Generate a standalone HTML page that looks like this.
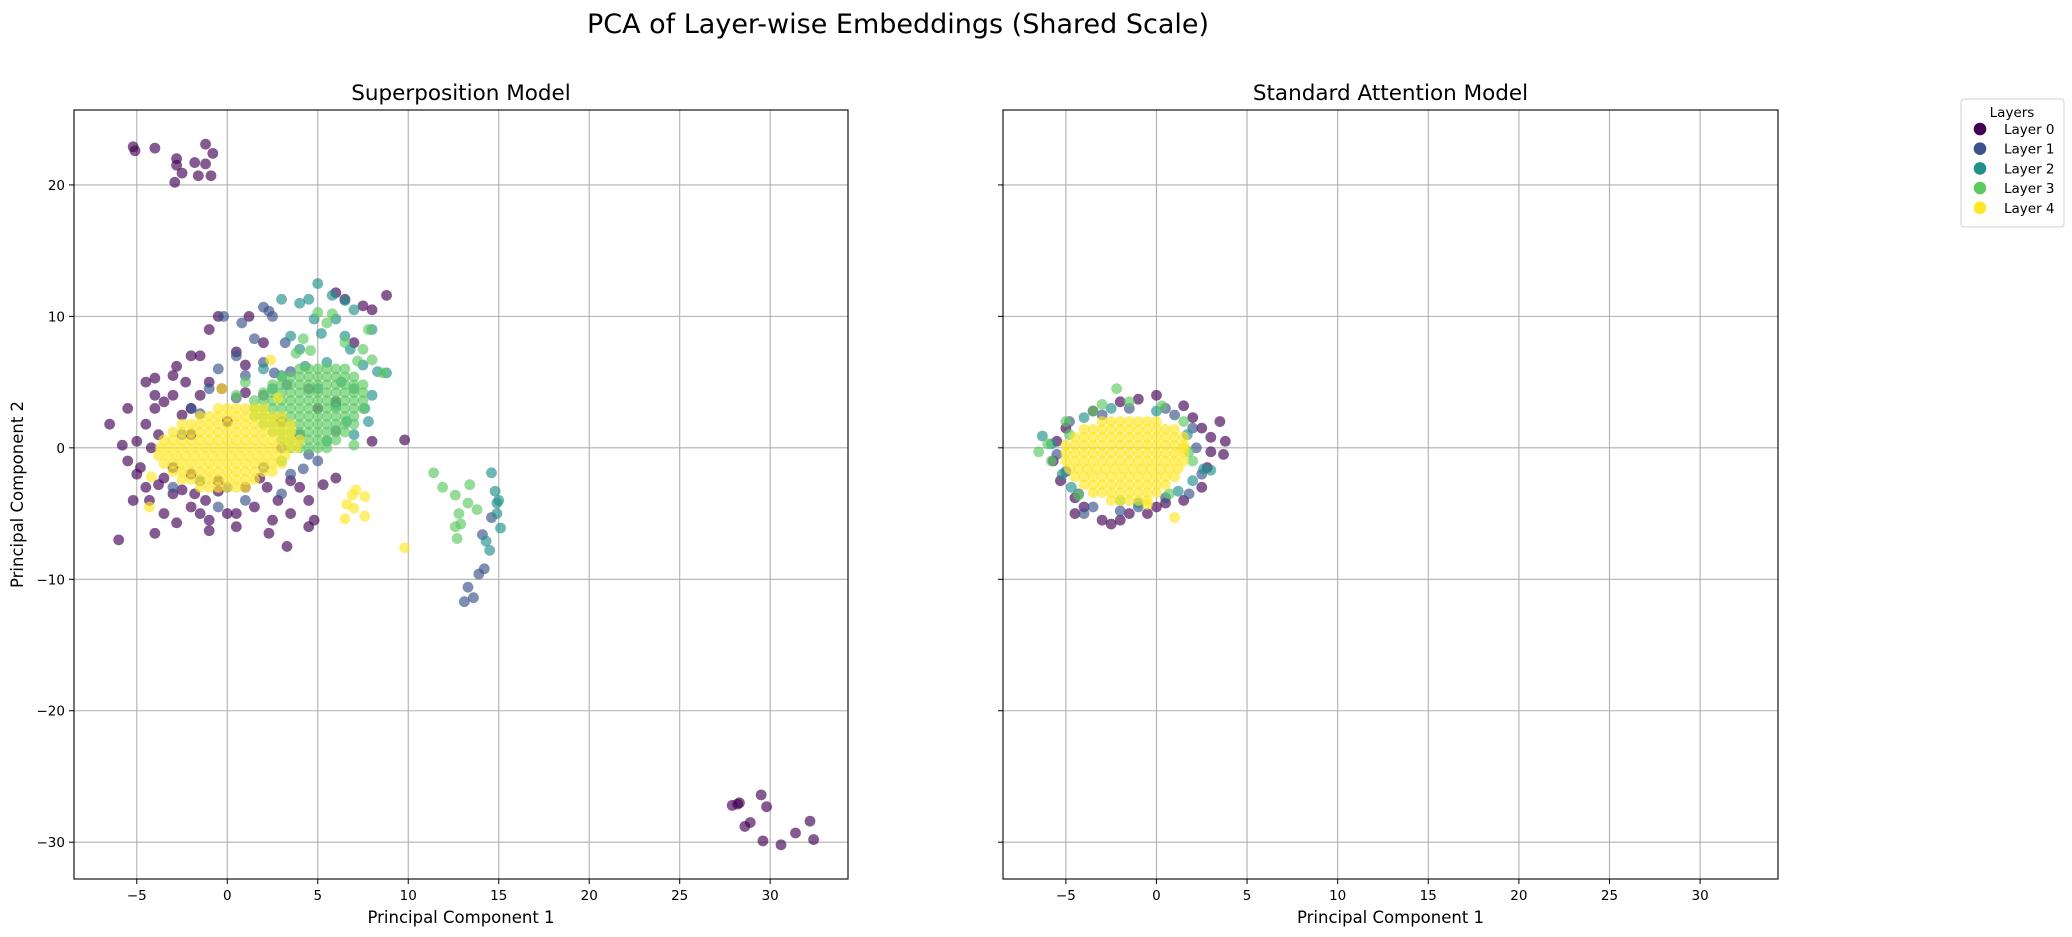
<!DOCTYPE html>
<html><head><meta charset="utf-8"><style>
body{margin:0;background:#fff;}
svg{display:block;font-family:"DejaVu Sans","Liberation Sans",sans-serif;}
</style></head><body>
<svg id="fig" width="2072" height="937" viewBox="0 0 2072 937" xmlns="http://www.w3.org/2000/svg">
<rect width="2072" height="937" fill="#fff"/>
<text x="898" y="33" font-size="27" text-anchor="middle">PCA of Layer-wise Embeddings (Shared Scale)</text>
<g id="root"></g>
<g>
<rect x="1961" y="99" width="103" height="128" rx="3" fill="#fff" stroke="#d0d0d0"/>
<text x="2012" y="117" font-size="13.5" text-anchor="middle">Layers</text>
<g id="legend"></g>
</g>
</svg>
<script>
const layerNames = ["Layer 0","Layer 1","Layer 2","Layer 3","Layer 4"];
const layerColors = ["#440154","#3b528b","#21918c","#5ec962","#fde725"];
const xTicks = [-5,0,5,10,15,20,25,30];
const yTicks = [20,10,0,-10,-20,-30];

// Superposition model scattered points per layer [x,y]
const sup0 = [[-5.2,22.9],[-5.1,22.6],[-4,22.8],[-2.8,22],[-2.8,21.5],[-2.5,20.9],[-2.9,20.2],[-1.8,21.7],[-1.2,21.6],[-1.2,23.1],[-0.8,22.4],[-1.6,20.7],[-0.9,20.7],
[27.9,-27.2],[28.3,-27],[28.6,-28.8],[28.9,-28.5],[29.5,-26.4],[29.8,-27.3],[29.6,-29.9],[30.6,-30.2],[31.4,-29.3],[32.2,-28.4],[32.4,-29.8],[28.2,-27.1],
[-6,-7],[-6.5,1.8],[-5.5,3],[-5.5,-1],[-5,-2],[-5.2,-4],[-4.5,5],[-4,5.3],[-4.5,-3],[-4,-6.5],[-3.5,3.5],[-3.8,1],[-3,-1.5],[-3,-3.5],[-2.8,-5.7],[-2.8,6.2],[-2.3,5],[-2,3],[-2,7],[-1.5,7],[-1,9],[-0.5,10],[-1.5,4],[-1.2,-4],[-1,-5.5],[-1,-6.3],[-0.5,-3.3],[0,-5],[0.5,-5],[1,6.3],[1,4.2],[2,8],[2.2,-3],[2.8,-4],[2.5,-5.5],[2.3,-6.5],[3.3,-7.5],[3.5,-5],[4.5,-4],[4.5,-6],[4.8,-5.5],[4,-3],[3.5,-2.5],[5.3,-2.8],[6,-2.3],[6,11.8],[6.5,11.3],[7.5,10.8],[8,10.5],[8.8,11.6],[7,8],[8,0.5],[9.8,0.6],[6,3.5],[5,3],[-2,-2],[-3.5,-2.3],[-4.2,0],[-5,0.5],[-2,1],[0,2],[1,-3],[-0.3,4.5],[-1.8,-3.5],[-4,3],[-3,4],[-3.5,-5],[-2,-4.5],[1.2,10],[0.5,-6],[-4.8,-1.5],[-4.5,1.8],[-3.8,-2.8],[-2.5,2.5],[-5.8,0.2],[-4,4],[-3,5.5],[-1,5],[0.5,7.3],[-0.5,-2.5],[1.5,-4.5],[-2.5,-3.2],[-4.3,-4],[-1.5,-5],[1.8,-2.3]];
const sup1 = [[13.3,-10.6],[13.1,-11.7],[13.6,-11.4],[13.9,-9.6],[14.2,-9.2],[14.6,-5.3],[14.1,-6.6],
[2,10.7],[2.3,10.4],[0.8,9.5],[-0.2,10],[2.5,10],[1.5,8.3],[3.2,8],[0.5,7],[-0.5,6],[2,6.5],[3.5,5.8],[1,5.5],[4,1],[3,0],[2,-1.5],[0,-3],[-1.5,-2.5],[3.5,-2],[4.5,-0.5],[-2,3],[-1,4.5],[0.5,3.8],[2,4],[3,2],[5,-1],[1,-4],[-3,-3],[-2.5,1],[3,-3.5],[6,1.3],[-0.5,-4.5],[4.5,4.5],[3.3,4.8],[2.6,5.7],[4.2,-1.6],[-1.5,2.6]];
const sup2 = [[14.6,-1.9],[14.8,-3.3],[15,-4],[14.9,-5],[15.1,-6.1],[14.5,-7.8],[14.3,-7.1],[14.9,-4.2],
[5,12.5],[5.8,11.6],[4.5,11.3],[3,11.3],[4,11],[6.5,11.2],[7,10.5],[6,9.8],[8,9],[5.2,8.7],[6.8,7.5],[3.5,8.5],[7.5,6.3],[8.3,5.8],[7,4.5],[6.3,5],[5.5,6.5],[4.3,6.2],[2.5,4.5],[7.6,3],[6.6,2],[7,1],[3,5.5],[2,6],[4,7.5],[5,4.5],[6,3.2],[7.8,2],[5.5,0.5],[8,4],[8.8,5.7],[6.5,8.5],[4.8,9.8]];
const sup3 = [[11.4,-1.9],[11.9,-3],[12.6,-3.6],[12.8,-5],[12.9,-5.8],[12.7,-6.9],[13.3,-4.2],[13.8,-4.7],[13.4,-2.8],[12.6,-6],
[5,10.3],[5.5,9.5],[6.5,8],[7.5,7.5],[4.2,8.3],[3.8,7.2],[8,6.7],[7.8,9],[8.6,5.7],[1,5],[0.5,4],[7,0.2],[3,-1],[5.8,10.2],[4.6,7.4],[7.2,6.6]];
const sup4 = [[6.6,-4.3],[7,-4.6],[6.9,-3.6],[7.1,-3.2],[7.6,-3.7],[7.6,-5.2],[6.5,-5.4],[9.8,-7.6],[-4.3,-4.5],[2.4,6.7],[-0.3,4.5],[2.8,3.8],[-4.2,-2.2]];
// dense cores as [y, [x values]]
const sup3Rows = [[6.0,[4,4.5,5,5.5,6,6.5]],[5.4,[3,3.5,4,4.5,5,5.5,6,6.5,7]],[4.8,[2.5,3,3.5,4,4.5,5,5.5,6,6.5,7,7.5]],[4.2,[2,2.5,3,3.5,4,4.5,5,5.5,6,6.5,7,7.5]],[3.6,[1.5,2,2.5,3,3.5,4,4.5,5,5.5,6,6.5,7,7.5]],[3.0,[1.5,2,2.5,3,3.5,4,4.5,5,5.5,6,6.5,7,7.5]],[2.4,[1.5,2,2.5,3,3.5,4,4.5,5,5.5,6,6.5,7]],[1.8,[2,2.5,3,3.5,4,4.5,5,5.5,6,6.5,7]],[1.2,[2.5,3,3.5,4,4.5,5,5.5,6,6.5]],[0.6,[3,3.5,4,4.5,5,5.5,6]],[0,[3.5,4,4.5,5,5.5]]];
const sup4Rows = [[3.0,[-0.5,0,0.5,1,1.5,2]],[2.4,[-1.5,-1,-0.5,0,0.5,1,1.5,2,2.5,3]],[1.8,[-2.5,-2,-1.5,-1,-0.5,0,0.5,1,1.5,2,2.5,3,3.5]],[1.2,[-3,-2.5,-2,-1.5,-1,-0.5,0,0.5,1,1.5,2,2.5,3,3.5]],[0.6,[-3.5,-3,-2.5,-2,-1.5,-1,-0.5,0,0.5,1,1.5,2,2.5,3,3.5,4]],[0,[-3.7,-3.2,-2.7,-2.2,-1.7,-1.2,-0.7,-0.2,0.3,0.8,1.3,1.8,2.3,2.8,3.3,3.8]],[-0.6,[-3.8,-3.3,-2.8,-2.3,-1.8,-1.3,-0.8,-0.3,0.2,0.7,1.2,1.7,2.2,2.7,3.2]],[-1.2,[-3.5,-3,-2.5,-2,-1.5,-1,-0.5,0,0.5,1,1.5,2,2.5,3]],[-1.8,[-3,-2.5,-2,-1.5,-1,-0.5,0,0.5,1,1.5,2,2.5]],[-2.4,[-2.5,-2,-1.5,-1,-0.5,0,0.5,1,1.5]],[-3.0,[-1.5,-1,-0.5,0,0.5,1]]];

// Standard attention model
const std0 = [[-3,-5.5],[-2.5,-5.8],[-2,-5.5],[-1.5,-5],[-0.5,-5],[0,-4.5],[-4,-4.5],[-4.5,-3.8],[-5.3,-2.5],[-5.7,-1],[-5.5,0.5],[-5,1.5],[-3.5,2.8],[-2,3.5],[-1,3.7],[0,4],[1.5,3.2],[2,2.3],[2.5,1.5],[3,0.8],[3.5,2],[3.8,0.5],[3.7,-0.5],[2.8,-1.5],[2.5,-3],[1.5,-4],[0.5,-4.2],[3,-0.3],[-4.5,-5]];
const std1 = [[-4,-5],[-3.5,-4.5],[-2,-4.8],[-1,-4.5],[0.5,-3.8],[1.8,-3.5],[2.5,-2],[2.2,0],[2,1.5],[-5,-1.8],[-5.5,-0.5],[-4.8,2],[-3,2.5],[-1.5,3],[0.5,3],[-4.3,-3.5],[1,2.5]];
const std2 = [[3,-1.7],[2.6,-1.6],[-6.3,0.9],[-5.8,0.3],[-5.2,-2],[-4,2.3],[-2.5,3],[0,2.8],[1.7,1],[-1,-4.2],[2,-2.5],[-4.7,-3],[1.2,-3.3]];
const std3 = [[-2.2,4.5],[-3.5,2.8],[-5,2],[-6,0.3],[-6.5,-0.3],[-5.8,-1],[-3,3.3],[-1.5,3.5],[0.3,3.2],[1.5,2],[2,-1],[-4.3,-3.6],[-2,-4],[0.7,-3.5],[1.8,-0.3],[-4.8,1]];
const std4 = [[1,-5.3],[-0.5,-4.3],[1.5,0]];
const std4Rows = [[2.0,[-3,-2.5,-2,-1.5,-1,-0.5,0]],[1.4,[-4,-3.5,-3,-2.5,-2,-1.5,-1,-0.5,0,0.5,1]],[0.8,[-4.5,-4,-3.5,-3,-2.5,-2,-1.5,-1,-0.5,0,0.5,1,1.5]],[0.2,[-5,-4.5,-4,-3.5,-3,-2.5,-2,-1.5,-1,-0.5,0,0.5,1,1.5]],[-0.4,[-5,-4.5,-4,-3.5,-3,-2.5,-2,-1.5,-1,-0.5,0,0.5,1,1.5]],[-1.0,[-5,-4.5,-4,-3.5,-3,-2.5,-2,-1.5,-1,-0.5,0,0.5,1,1.5]],[-1.6,[-4.8,-4.3,-3.8,-3.3,-2.8,-2.3,-1.8,-1.3,-0.8,-0.3,0.2,0.7,1.2]],[-2.2,[-4.5,-4,-3.5,-3,-2.5,-2,-1.5,-1,-0.5,0,0.5,1]],[-2.8,[-4,-3.5,-3,-2.5,-2,-1.5,-1,-0.5,0,0.5]],[-3.4,[-3.5,-3,-2.5,-2,-1.5,-1,-0.5,0]],[-4.0,[-2.5,-2,-1.5,-1,-0.5]]];

const NS="http://www.w3.org/2000/svg";
const root=document.getElementById('root');
function mk(tag,attrs,parent){const e=document.createElementNS(NS,tag);for(const k in attrs)e.setAttribute(k,attrs[k]);(parent||root).appendChild(e);return e;}
const X0=-8.47, X1=34.3, Y0=-32.8, Y1=25.7;
function makeAxes(left,right,top,bottom,title,name,showY){
  const g=mk('g',{});
  
  
  const xs=v=>left+(v-X0)/(X1-X0)*(right-left);
  const ys=v=>bottom-(v-Y0)/(Y1-Y0)*(bottom-top);
  xTicks.forEach(t=>{
    const l=mk('line',{x1:xs(t),x2:xs(t),y1:top,y2:bottom,stroke:'#b0b0b0','stroke-width':1.1},g);
    
    
    mk('line',{x1:xs(t),x2:xs(t),y1:bottom,y2:bottom+5,stroke:'#000','stroke-width':1},g);
    const tx=mk('text',{x:xs(t),y:bottom+21,'font-size':13.5,'text-anchor':'middle'},g);
    tx.textContent=(t<0?'\u2212'+(-t):t);
    
    
  });
  yTicks.forEach(t=>{
    const l=mk('line',{x1:left,x2:right,y1:ys(t),y2:ys(t),stroke:'#b0b0b0','stroke-width':1.1},g);
    
    
    mk('line',{x1:left-5,x2:left,y1:ys(t),y2:ys(t),stroke:'#000','stroke-width':1},g);
    if(showY){
      const tx=mk('text',{x:left-9,y:ys(t)+5,'font-size':13.5,'text-anchor':'end'},g);
      tx.textContent=(t<0?'\u2212'+(-t):t);
      
      
    }
  });
  const t=mk('text',{x:(left+right)/2,y:top-10,'font-size':21.5,'text-anchor':'middle'},g);
  t.textContent=title;
  
  
  const xl=mk('text',{x:(left+right)/2,y:bottom+44,'font-size':16.5,'text-anchor':'middle'},g);
  xl.textContent='Principal Component 1';
  
  
  if(showY){
    const yl=mk('text',{x:0,y:0,'font-size':16.5,'text-anchor':'middle',transform:`translate(23,${(top+bottom)/2}) rotate(-90)`},g);
    yl.textContent='Principal Component 2';
    
    
  }
  const clip='clip'+name;
  const cp=mk('clipPath',{id:clip},g);mk('rect',{x:left,y:top,width:right-left,height:bottom-top},cp);
  const pts=mk('g',{'clip-path':`url(#${clip})`},g);
  const frame=mk('rect',{x:left,y:top,width:right-left,height:bottom-top,fill:'none',stroke:'#000','stroke-width':1.1},g);
  
  
  return {xs,ys,pts,g};
}
function plot(ax,layer,pairs,rows){
  const col=layerColors[layer];
  const grp=mk('g',{},ax.pts);
  
  
  const dot=(x,y)=>{const c=mk('circle',{cx:ax.xs(x),cy:ax.ys(y),r:5.4,fill:col,'fill-opacity':0.65},grp);
    
    };
  pairs.forEach(p=>dot(p[0],p[1]));
  if(rows) rows.forEach(r=>r[1].forEach(x=>dot(x,r[0])));
}
const A=makeAxes(74,848,110,879,'Superposition Model','superposition-axes',true);
const B=makeAxes(1003,1778,110,879,'Standard Attention Model','standard-attention-axes',false);
plot(A,0,sup0);plot(A,1,sup1);plot(A,2,sup2);plot(A,3,sup3,sup3Rows);plot(A,4,sup4,sup4Rows);
plot(B,0,std0);plot(B,1,std1);plot(B,2,std2);plot(B,3,std3);plot(B,4,std4,std4Rows);

const lg=document.getElementById('legend');
layerNames.forEach((n,i)=>{
  const y=129+i*19.7;
  const e=mk('g',{},lg);
  
  
  mk('circle',{cx:1980,cy:y,r:6.3,fill:layerColors[i]},e);
  const t=mk('text',{x:2004,y:y+5,'font-size':13.5},e);
  t.textContent=n;
});
</script>
</body></html>
